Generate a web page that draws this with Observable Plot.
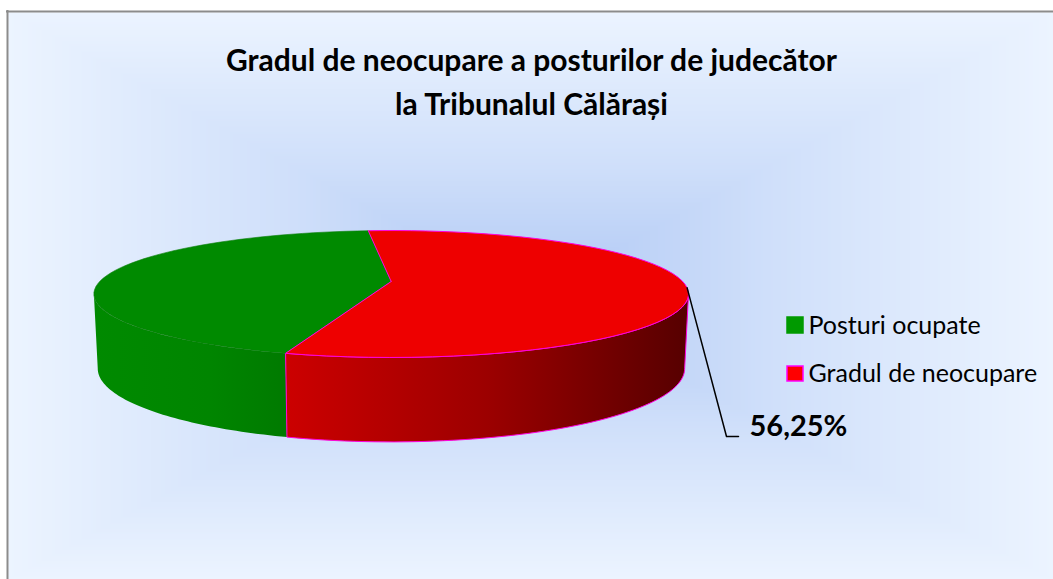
<!DOCTYPE html>
<html>
<head>
<meta charset="utf-8">
<style>html,body{margin:0;padding:0;background:#fff;overflow:hidden}svg{display:block}</style>
<script src="https://cdn.jsdelivr.net/npm/d3@7"></script>
<script src="https://cdn.jsdelivr.net/npm/@observablehq/plot@0.6"></script>
</head>
<body>
<script>
const titleLines = ["Gradul de neocupare a posturilor de judecător", "la Tribunalul Călărași"];
const categories = ["Posturi ocupate", "Gradul de neocupare"];
const shares = [43.75, 56.25];
const topColors = ["#008a00", "#ee0000"];
const edgeColors = ["#0a7d0a", "#ff00e0"];
const legendColors = ["#009a00", "#ff0000"];
const legendEdges = ["#009a00", "#ff00ff"];
const labelText = "56,25%";

// Perspective disc: unit-circle pie angles projected on to the page
const W = 1053, H = 579, k = 0.197, firstAngle = -5.4;
const topDisc = {cx: 390.7, cy: 281, a: 291.5, b: 61};
const baseDisc = {cx: 390.7, cy: 353.6, a: 287.7, b: 70.5};
const project = (d, deg) => {
  const t = deg * Math.PI / 180, u = Math.sin(t), v = Math.cos(t), w = 1 + k * v;
  return {x: d.cx + d.a * u / w, y: d.cy - d.b * v / w};
};
const arc = (d, from, to) => d3.range(61).map(i => project(d, from + (to - from) * i / 60));

const redStart = firstAngle, redEnd = redStart + shares[1] * 3.6, greenEnd = redStart + 360;
const silhouette = Math.acos(-k) * 180 / Math.PI;
const wall = (from, to) => {
  const pts = [...arc(topDisc, from, to), ...arc(baseDisc, to, from)];
  return [...pts, pts[0]];
};
const slice = (from, to) => {
  const apex = {x: topDisc.cx, y: topDisc.cy};
  return [apex, ...arc(topDisc, from, to), apex];
};
const midRed = project(topDisc, (redStart + redEnd) / 2);
const leader = [midRed, {x: 726, y: 436}, {x: 738, y: 436}];

const defs = () => {
  const s = d3.create("svg:defs");
  const grad = (id, stops) => {
    const g = s.append("linearGradient").attr("id", id);
    stops.forEach(([o, c]) => g.append("stop").attr("offset", o).attr("stop-color", c));
  };
  grad("wallRed", [[0, "#cc0000"], [0.5, "#9c0000"], [1, "#560000"]]);
  grad("wallGreen", [[0, "#008a00"], [0.6, "#008500"], [1, "#007a00"]]);
  return s.node();
};

const ty = [61, 105];
const font = "Lato, Carlito, 'Open Sans', sans-serif";

document.body.append(Plot.plot({
  width: W, height: H, margin: 0,
  x: {domain: [0, W], range: [0, W], axis: null},
  y: {domain: [0, H], range: [0, H], axis: null},
  color: {type: "linear", domain: [0, 0.12, 0.45, 1], range: ["#aec7f4", "#b8cef6", "#cfdffa", "#ecf4ff"]},
  marks: [
    defs,
    Plot.raster({
      fill: (x, y) => Math.min(1, Math.max(Math.abs(x - 530) / 523, Math.abs(y - 295) / 284)),
      x1: 8, y1: 12, x2: W, y2: H, pixelSize: 1, imageRendering: "auto"
    }),
    Plot.ruleX([7], {y1: 10, y2: H, stroke: "#8c8c8c", strokeWidth: 2}),
    Plot.ruleY([11], {x1: 6, x2: W, stroke: "#8c8c8c", strokeWidth: 2}),

    Plot.line(wall(redEnd, 360 - silhouette), {x: "x", y: "y", fill: "url(#wallGreen)", stroke: "none"}),
    Plot.line(wall(silhouette, redEnd), {x: "x", y: "y", fill: "url(#wallRed)", stroke: edgeColors[1], strokeWidth: 1}),
    Plot.line(slice(redEnd, greenEnd), {x: "x", y: "y", fill: topColors[0], stroke: edgeColors[0], strokeWidth: 0.6}),
    Plot.line(slice(redStart, redEnd), {x: "x", y: "y", fill: topColors[1], stroke: edgeColors[1], strokeWidth: 1}),

    Plot.line(leader, {x: "x", y: "y", stroke: "#000", strokeWidth: 1.5}),
    Plot.text([labelText], {x: 749, y: 426, text: d => d, textAnchor: "start", fontFamily: font, fontWeight: 700, fontSize: 29, fill: "#000"}),

    Plot.text(titleLines, {x: 531, y: (d, i) => ty[i], text: d => d, textAnchor: "middle", fontFamily: font, fontWeight: 700, fontSize: 30, fill: "#000"}),

    Plot.rect(categories, {
      x1: 787, x2: 803,
      y1: (d, i) => [317, 366][i], y2: (d, i) => [333, 381][i],
      fill: (d, i) => legendColors[i], stroke: (d, i) => legendEdges[i], strokeWidth: 1.5
    }),
    Plot.text(categories, {x: 808, y: (d, i) => [325, 373][i], text: d => d, textAnchor: "start", fontFamily: font, fontSize: 25, fill: "#000"})
  ]
}));
</script>
</body>
</html>
